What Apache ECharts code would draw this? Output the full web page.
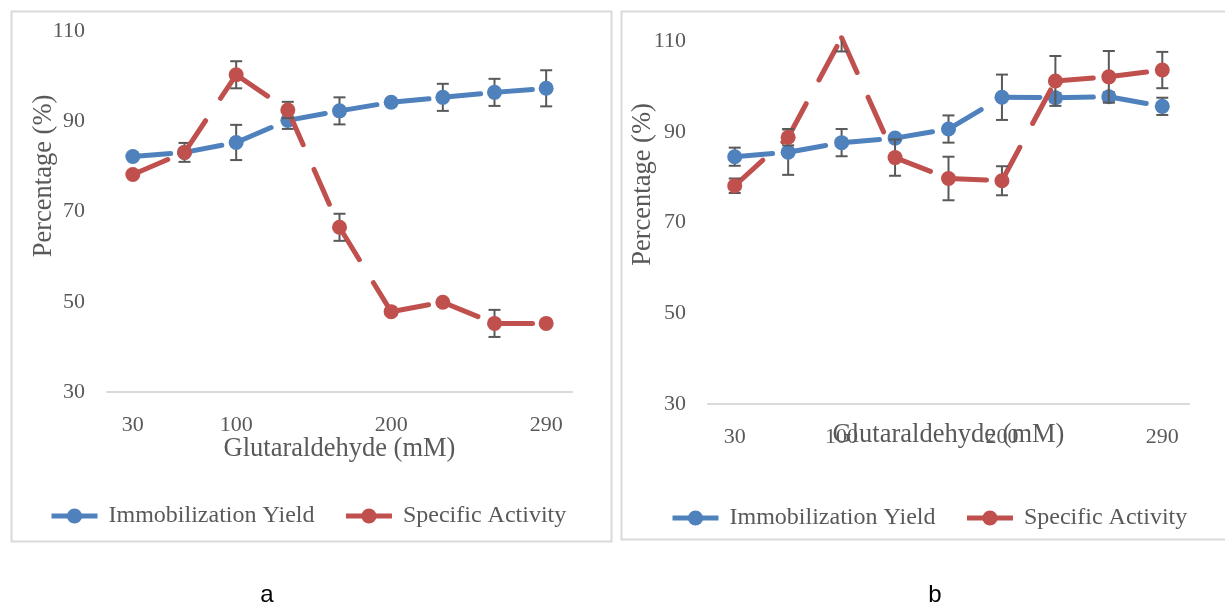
<!DOCTYPE html>
<html>
<head>
<meta charset="utf-8">
<script src="https://cdn.jsdelivr.net/npm/echarts@6/dist/echarts.min.js"></script>
<style>
html,body{margin:0;padding:0;background:#fff;}
#c{width:1225px;height:611px;}
</style>
</head>
<body>
<div id="c"></div>
<script>
// ---- data ----
const categories = ['30', '', '100', '', '', '200', '', '', '290'];
const yTicks = [30, 50, 70, 90, 110];
const seriesNames = ['Immobilization Yield', 'Specific Activity'];

// panel a
const yieldA = [82.2, 83.1, 85.3, 90.2, 92.3, 94.2, 95.3, 96.4, 97.3];
const yieldErrA = [0.5, 2.1, 3.9, 1.9, 3, 0.5, 3, 3, 4];
const activityA = [78.2, 83.1, 100.3, 92.5, 66.5, 47.8, 49.9, 45.2, 45.2];
const activityErrA = [0.5, 0.5, 3, 1.8, 3, 0.5, 0.5, 3, 0.5];

// panel b
const yieldB = [84.5, 85.5, 87.6, 88.6, 90.6, 97.6, 97.5, 97.7, 95.6];
const yieldErrB = [2, 5, 3, 0.5, 3, 5, 1, 1, 1.9];
const activityB = [78.1, 88.8, 110.7, 84.3, 79.7, 79.2, 101.2, 102.1, 103.6];
const activityErrB = [1.6, 1.8, 3, 4, 4.8, 3.2, 5.5, 5.7, 4];

const yMin = 30, yMax = 110;

// ---- styling ----
const SERIF = '"Liberation Serif", "Times New Roman", serif';
const TXT = '#595959';
const BLUE = '#4f81bd';
const RED = '#c0504d';
const ERR = '#595959';

function segmentSeries(values, color, gridIdx, z) {
  return {
    type: 'custom',
    xAxisIndex: gridIdx, yAxisIndex: gridIdx,
    z: z, silent: true, clip: false,
    dimensions: ['i', 'v1', 'v2'],
    encode: { x: 0, y: [1, 2] },
    data: values.slice(0, -1).map((v, i) => [i, v, values[i + 1]]),
    renderItem: function (params, api) {
      const i = api.value(0);
      const p1 = api.coord([i, api.value(1)]);
      const p2 = api.coord([i + 1, api.value(2)]);
      return {
        type: 'line',
        shape: { x1: p1[0], y1: p1[1], x2: p2[0], y2: p2[1] },
        style: { stroke: color, lineWidth: 5, lineDash: [38, 27], lineCap: 'round', fill: null }
      };
    }
  };
}

function errorSeries(values, errs, gridIdx, z) {
  return {
    type: 'custom',
    xAxisIndex: gridIdx, yAxisIndex: gridIdx,
    z: z, silent: true,
    dimensions: ['i', 'v', 'e'],
    encode: { x: 0, y: 1 },
    data: values.map((v, i) => [i, v, errs[i]]),
    renderItem: function (params, api) {
      const c = params.coordSys;
      const i = api.value(0), v = api.value(1), e = api.value(2);
      const x = api.coord([i, v])[0];
      const yTop = api.coord([i, v + e])[1];
      const yBot = api.coord([i, v - e])[1];
      const top = Math.max(yTop, c.y);
      const bot = Math.min(yBot, c.y + c.height);
      const st = { stroke: ERR, lineWidth: 2, fill: null };
      const children = [];
      if (bot > top) children.push({ type: 'line', shape: { x1: x, y1: top, x2: x, y2: bot }, style: st });
      if (yTop >= c.y) children.push({ type: 'line', shape: { x1: x - 6, y1: yTop, x2: x + 6, y2: yTop }, style: st });
      if (yBot <= c.y + c.height && yBot >= c.y) children.push({ type: 'line', shape: { x1: x - 6, y1: yBot, x2: x + 6, y2: yBot }, style: st });
      return { type: 'group', children: children };
    }
  };
}

function markerSeries(name, values, color, gridIdx, z) {
  return {
    name: name,
    type: 'line',
    xAxisIndex: gridIdx, yAxisIndex: gridIdx,
    z: z,
    symbol: 'circle', symbolSize: 15, showSymbol: true,
    data: values.map(v => (v > yMax ? { value: v, symbol: 'none' } : v)),
    lineStyle: { width: 5, color: color, opacity: 0 },
    itemStyle: { color: color },
    emphasis: { disabled: true },
    silent: true
  };
}

function xAxis(gridIdx, nameGap, margin) {
  return {
    type: 'category', gridIndex: gridIdx, data: categories, boundaryGap: true,
    axisLine: { show: true, lineStyle: { color: '#d9d9d9', width: 2 } },
    axisTick: { show: false },
    splitLine: { show: false },
    axisLabel: { interval: 0, margin: margin, fontFamily: SERIF, fontSize: 22, color: TXT },
    name: 'Glutaraldehyde (mM)', nameLocation: 'middle', nameGap: nameGap,
    nameMoveOverlap: false,
    nameTextStyle: { fontFamily: SERIF, fontSize: 26.5, color: TXT }
  };
}

function yAxis(gridIdx, nameGap, shift) {
  return {
    type: 'value', gridIndex: gridIdx, min: yMin, max: yMax,
    axisLine: { show: false }, axisTick: { show: false }, splitLine: { show: false },
    axisLabel: { customValues: yTicks, margin: 22, fontFamily: SERIF, fontSize: 22, color: TXT },
    name: 'Percentage (%)', nameLocation: 'middle', nameGap: nameGap,
    nameMoveOverlap: false,
    nameTextStyle: { fontFamily: SERIF, fontSize: 26.5, color: TXT, padding: [0, 0, 0, shift] }
  };
}

function legend(left, top) {
  return {
    left: left, top: top, orient: 'horizontal', padding: 0,
    itemWidth: 46, itemHeight: 19, itemGap: 29,
    data: seriesNames,
    lineStyle: { width: 5, opacity: 1 },
    textStyle: { fontFamily: SERIF, fontSize: 24, color: TXT, padding: [0, 0, 0, 6] },
    selectedMode: false
  };
}

const chart = echarts.init(document.getElementById('c'), null, { renderer: 'canvas' });
chart.setOption({
  animation: false,
  backgroundColor: '#ffffff',
  grid: [
    { left: 107, top: 31, width: 465, height: 361 },
    { left: 708, top: 41, width: 481, height: 363 }
  ],
  xAxis: [xAxis(0, 44, 22), xAxis(1, 18, 22)],
  yAxis: [yAxis(0, 49, 71), yAxis(1, 51, 76)],
  legend: [legend(49, 504), legend(670, 506)],
  series: [
    segmentSeries(yieldA, BLUE, 0, 2),
    errorSeries(yieldA, yieldErrA, 0, 3),
    markerSeries(seriesNames[0], yieldA, BLUE, 0, 4),
    segmentSeries(activityA, RED, 0, 5),
    errorSeries(activityA, activityErrA, 0, 6),
    markerSeries(seriesNames[1], activityA, RED, 0, 7),

    segmentSeries(yieldB, BLUE, 1, 2),
    errorSeries(yieldB, yieldErrB, 1, 3),
    markerSeries(seriesNames[0], yieldB, BLUE, 1, 4),
    segmentSeries(activityB, RED, 1, 5),
    errorSeries(activityB, activityErrB, 1, 6),
    markerSeries(seriesNames[1], activityB, RED, 1, 7)
  ],
  graphic: [
    { type: 'rect', silent: true, z: -10, shape: { x: 11.5, y: 11.5, width: 600, height: 530 },
      style: { fill: null, stroke: '#d9d9d9', lineWidth: 2 } },
    { type: 'rect', silent: true, z: -10, shape: { x: 621.5, y: 11.5, width: 612, height: 528 },
      style: { fill: null, stroke: '#d9d9d9', lineWidth: 2 } },
    { type: 'text', silent: true, x: 267, y: 595,
      style: { text: 'a', font: '24px "Liberation Sans", Arial, sans-serif', fill: '#000', align: 'center', verticalAlign: 'middle' } },
    { type: 'text', silent: true, x: 935, y: 595,
      style: { text: 'b', font: '24px "Liberation Sans", Arial, sans-serif', fill: '#000', align: 'center', verticalAlign: 'middle' } }
  ]
});
</script>
</body>
</html>
